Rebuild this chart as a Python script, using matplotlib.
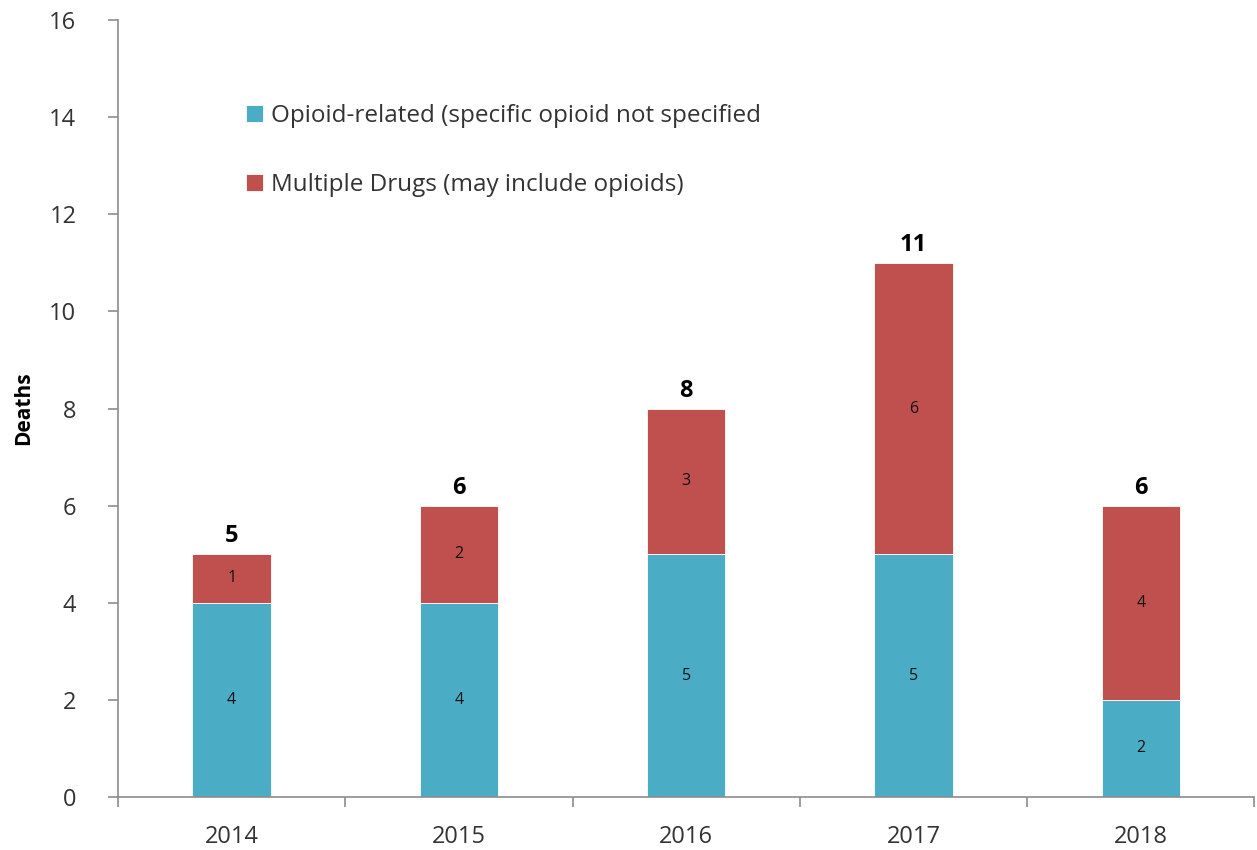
import matplotlib
matplotlib.use("Agg")
import matplotlib.pyplot as plt
import numpy as np

# Deaths by year, split by drug category
years = ["2014", "2015", "2016", "2017", "2018"]
opioid_related = [4, 4, 5, 5, 2]
multiple_drugs = [1, 2, 3, 6, 4]

series_labels = [
    "Opioid-related (specific opioid not specified",
    "Multiple Drugs (may include opioids)",
]

BLUE = "#4BACC6"
RED = "#C0504D"
AXIS_GREY = "#8c8c8c"

plt.rcParams["font.family"] = ["Open Sans", "DejaVu Sans"]

fig = plt.figure(figsize=(12.57, 8.5), dpi=100)
ax = fig.add_axes([0.0939, 0.0624, 0.904, 0.914])

x = np.arange(len(years))
width = 0.345
totals = [a + b for a, b in zip(opioid_related, multiple_drugs)]

b1 = ax.bar(x, opioid_related, width, color=BLUE, label=series_labels[0],
            edgecolor="white", linewidth=0.6)
b2 = ax.bar(x, multiple_drugs, width, bottom=opioid_related, color=RED,
            label=series_labels[1], edgecolor="white", linewidth=0.6)

# segment values in the middle of each piece
for xi, lo, hi in zip(x, opioid_related, multiple_drugs):
    ax.text(xi, lo / 2, str(lo), ha="center", va="center", fontsize=11.5,
            color="#111111")
    ax.text(xi, lo + hi / 2, str(hi), ha="center", va="center", fontsize=11.5,
            color="#111111")

# totals above the stacks
for xi, tot in zip(x, totals):
    ax.text(xi, tot + 0.12, str(tot), ha="center", va="bottom", fontsize=17,
            fontweight="bold", color="black")

ax.set_xlim(-0.5, len(years) - 0.5)
ax.set_ylim(0, 16)
ax.set_yticks(range(0, 17, 2))
ax.set_xticks(x)
ax.set_xticklabels(years)
ax.set_xticks(np.arange(-0.5, len(years) + 0.5, 1), minor=True)

ax.tick_params(axis="x", which="major", length=0, pad=20, labelsize=17,
               labelcolor="#333333")
ax.tick_params(axis="x", which="minor", length=7, width=1.2, color=AXIS_GREY,
               direction="out")
ax.tick_params(axis="y", length=7, width=1.2, color=AXIS_GREY, pad=23,
               labelsize=17, labelcolor="#333333")

for side in ["top", "right"]:
    ax.spines[side].set_visible(False)
for side in ["left", "bottom"]:
    ax.spines[side].set_color(AXIS_GREY)
    ax.spines[side].set_linewidth(1.2)

ax.set_ylabel("Deaths", fontsize=15, fontweight="bold")
ax.yaxis.set_label_coords(-0.074, 0.5)

leg = ax.legend(handles=[b1, b2], loc="upper left",
                bbox_to_anchor=(0.104, 0.905), frameon=False, fontsize=17.5,
                handlelength=0.7, handleheight=0.7, handletextpad=0.35,
                labelspacing=1.85, borderaxespad=0)
for t in leg.get_texts():
    t.set_color("#333333")

fig.savefig("out.png", dpi=100)
